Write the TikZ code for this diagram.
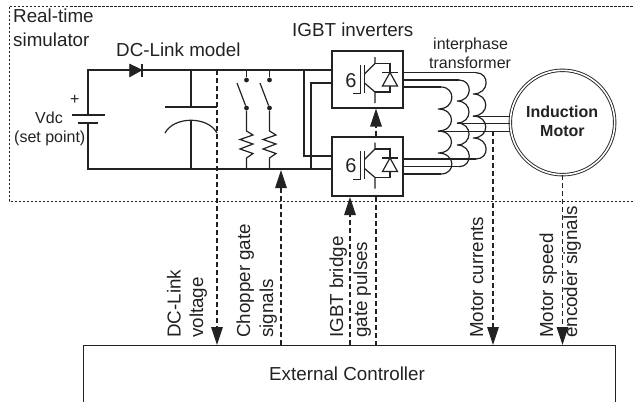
\documentclass[tikz,border=0pt]{standalone}
\usepackage{fontspec}
\setmainfont{Liberation Sans}
\usetikzlibrary{arrows.meta,calc}
\definecolor{ink}{HTML}{222222}
\tikzset{
  wire/.style={draw=ink,line width=1.2pt},
  thin wire/.style={draw=ink,line width=0.9pt},
  thick wire/.style={draw=ink,line width=2pt},
  box/.style={draw=ink,line width=1.5pt,rectangle,inner sep=0pt},
  sig/.style={draw=ink,line width=1.2pt,dash pattern=on 5pt off 3pt},
  sigarrow/.style={sig,-{Triangle[length=18pt,width=11.5pt,fill=ink]}},
  big/.style={inner sep=0pt,text=ink,font=\fontsize{18.8}{20}\selectfont,anchor=base west},
  small/.style={inner sep=0pt,text=ink,font=\fontsize{16}{18}\selectfont,anchor=base west},
  vert/.style={big,rotate=90},
  dotnode/.style={circle,fill=ink,inner sep=0pt,minimum size=4.8pt},
  frame/.style={draw=ink,line width=0.7pt,dash pattern=on 2.5pt off 1.5pt},
}
\newcommand{\igbtsym}[1]{%
  \begin{scope}[shift={(0,#1)}]
    \draw[wire] (353,93.6)--(360.7,93.6)--(360.7,65);
    \draw[wire] (364.5,65)--(364.5,93);
    \draw[wire] (375,57)--(375,63.5)--(364.5,74);
    \draw[wire] (375,63.5)--(390,63.5)--(390,92)--(375,92);
    \draw[wire] (364.5,83)--(375,92)--(375,103);
    \draw[wire] (382,72.5)--(398,72.5);
    \draw[wire,fill=white] (390,72.5)--(382.5,86)--(397.5,86)--cycle;
    \node[inner sep=0pt,text=ink,font=\fontsize{20}{22}\selectfont] at (351,80.5) {6};
  \end{scope}}
\newcommand{\coilpath}[9]{%
  % start wire y, start x, cusp x, ctrl x, c1, c2, c3, bottom y, bottom x
  \draw[wire] (#2,#1) .. controls (#4,#1) and (#4,#5) .. (#3,#5)
    .. controls (#4,#5) and (#4,#6) .. (#3,#6)
    .. controls (#4,#6) and (#4,#7) .. (#3,#7)
    .. controls (#4,#7) and (#4,#8) .. (#9,#8);}
\begin{document}
\begin{tikzpicture}[x=1pt,y=-1pt]
\useasboundingbox (0,0) rectangle (633,402);
% frame
\draw[frame] (632.5,6)--(9,6)--(9,201)--(632.5,201);
% nodes
\node[box,minimum width=71pt,minimum height=57pt] (inva) at (367.5,79.5) {};
\node[box,minimum width=71pt,minimum height=59pt] (invb) at (367.5,166.5) {};
\node[circle,draw=ink,double=white,double distance=1.6pt,line width=0.9pt,minimum size=104.4pt,inner sep=0pt] (motor) at (562.5,122.5) {};
\node[inner sep=0pt,text=ink,font=\fontsize{16}{18}\selectfont\bfseries,anchor=base west] (ma) at (526,117) {Induction};
\node[inner sep=0pt,text=ink,font=\fontsize{16}{18}\selectfont\bfseries,anchor=base west] (mb) at (540,136.7) {Motor};
% external controller
\coordinate (exl) at (83.5,345);
\coordinate (exr) at (615,345);
\draw[draw=ink,line width=0.9pt] (83.5,402)--(exl)--(exr)--(615,402);
\node[big] (ext) at (269,380) {External Controller};
% labels
\node[big] (l1) at (13,22.7) {Real-time};
\node[big] (l2) at (13,46) {simulator};
\node[big] (l3) at (116,56.7) {DC-Link model};
\node[big] (l4) at (292,36) {IGBT inverters};
\node[small] (l5) at (433,49) {interphase};
\node[small] (l6) at (429,68) {transformer};
\node[small] (l7) at (35,123) {Vdc};
\node[small] (l8) at (14,142) {(set point)};
\node[small] (l9) at (70,104.5) {+};
\node[vert] (v1) at (180.7,338) {DC-Link};
\node[vert] (v2) at (203,338) {voltage};
\node[vert] (v3) at (250,338) {Chopper gate};
\node[vert] (v4) at (273,338) {signals};
\node[vert] (v5) at (343,338) {IGBT bridge};
\node[vert] (v6) at (367,338) {gate pulses};
\node[vert] (v7) at (483,338) {Motor currents};
\node[vert] (v8) at (553,338) {Motor speed};
\node[vert] (v9) at (577,338) {encoder signals};
% DC bus
\coordinate (tl) at (88,70);
\coordinate (bl) at (88,169);
\coordinate (ja) at (304,70);
\coordinate (jb) at (304,156);
\coordinate (jc) at (311,83);
\coordinate (jd) at (311,169);
\coordinate (bata) at (88,115);
\coordinate (batb) at (88,123);
\draw[wire] (bata)--(tl)--(tl -| inva.west);
\draw[wire] (batb)--(bl)--(bl -| invb.west);
\draw[wire] (ja)--(jb)--(jb -| invb.west);
\draw[wire] (jc -| inva.west)--(jc)--(jd);
\draw[wire] (72,115)--(105,115);
\draw[wire] (78,123)--(98,123);
% diode
\coordinate (da) at (129.5,70);
\coordinate (db) at (142,70);
\draw[draw=ink,fill=ink,line width=0.5pt] (129.5,64)--(129.5,77)--(db)--cycle;
\draw[wire] (142,63.5)--(142,77);
% capacitor
\coordinate (captop) at (191,70);
\coordinate (capa) at (191,107);
\coordinate (capb) at (191,120);
\coordinate (capbot) at (191,169);
\draw[wire] (captop)--(capa);
\draw[wire] (capb)--(capbot);
\draw[wire] (165,107)--(217,107);
\draw[wire] (165,133) .. controls (174,116) and (208,116) .. (217,133);
% choppers
\foreach \x/\n in {246.5/a,269.5/b}{
  \node[dotnode] (sw\n t) at (\x,80) {};
  \node[dotnode] (sw\n b) at (\x,108) {};
  \draw[wire] (\x,70)--(sw\n t);
  \draw[wire] (\x-9.5,83)--(sw\n b);
  \draw[wire] (sw\n b)--(\x,131)--(\x+6.5,135)--(\x-6.5,139.5)--(\x+6.5,144)--(\x-6.5,149)--(\x+6.5,153.5)--(\x,158)--(\x,169);
}
% inverters
\igbtsym{0}
\igbtsym{85.5}
% coils (inverter-side wires)
\coordinate (ca1) at (inva.east |- 0,72.7);
\coordinate (ca2) at (inva.east |- 0,80);
\coordinate (ca3) at (inva.east |- 0,87);
\coordinate (cb1) at (invb.east |- 0,159);
\coordinate (cb2) at (invb.east |- 0,166.7);
\coordinate (cb3) at (invb.east |- 0,174);
\draw[wire] (ca1)--(476,72.7);
\draw[wire] (ca2)--(459,80);
\draw[thick wire] (ca3)--(441,87);
\draw[thick wire] (cb1)--(476,159);
\draw[wire] (cb2)--(459,166.7);
\draw[wire] (cb3)--(441,174);
\coilpath{72.7}{476}{473}{490}{94}{116}{138}{159}{476}
\coilpath{80}{459}{457}{473}{101}{123}{145}{166.7}{459}
\coilpath{87}{441}{438}{456}{109}{131}{153}{174}{441}
% taps
\coordinate (ta) at (473,116);
\coordinate (tb) at (457,123);
\coordinate (tc) at (438,131);
\draw[thin wire] (ta)--(ta -| motor.west);
\draw[thin wire] (tb)--(tb -| motor.west);
\draw[thin wire] (tc)--(tc -| motor.west);
% signals
\coordinate (s1) at (217,70);
\coordinate (s1e) at (exl -| s1);
\draw[sigarrow] (s1)--(s1e);
\coordinate (s2) at (281,170);
\draw[sigarrow] (exl -| s2)--(s2);
\coordinate (s3) at (350,197);
\draw[sigarrow] (exl -| s3)--(s3);
\coordinate (s4) at (376,345);
\draw[sig] (invb.south -| s4)--(s4);
\coordinate (s5) at (376,108.5);
\draw[sigarrow] (invb.north -| s5)--(s5);
\coordinate (s6) at (493,131);
\draw[sigarrow] (s6)--(exl -| s6);
\draw[sigarrow] (motor.south)--(exl -| motor.south);
\end{tikzpicture}
\end{document}
